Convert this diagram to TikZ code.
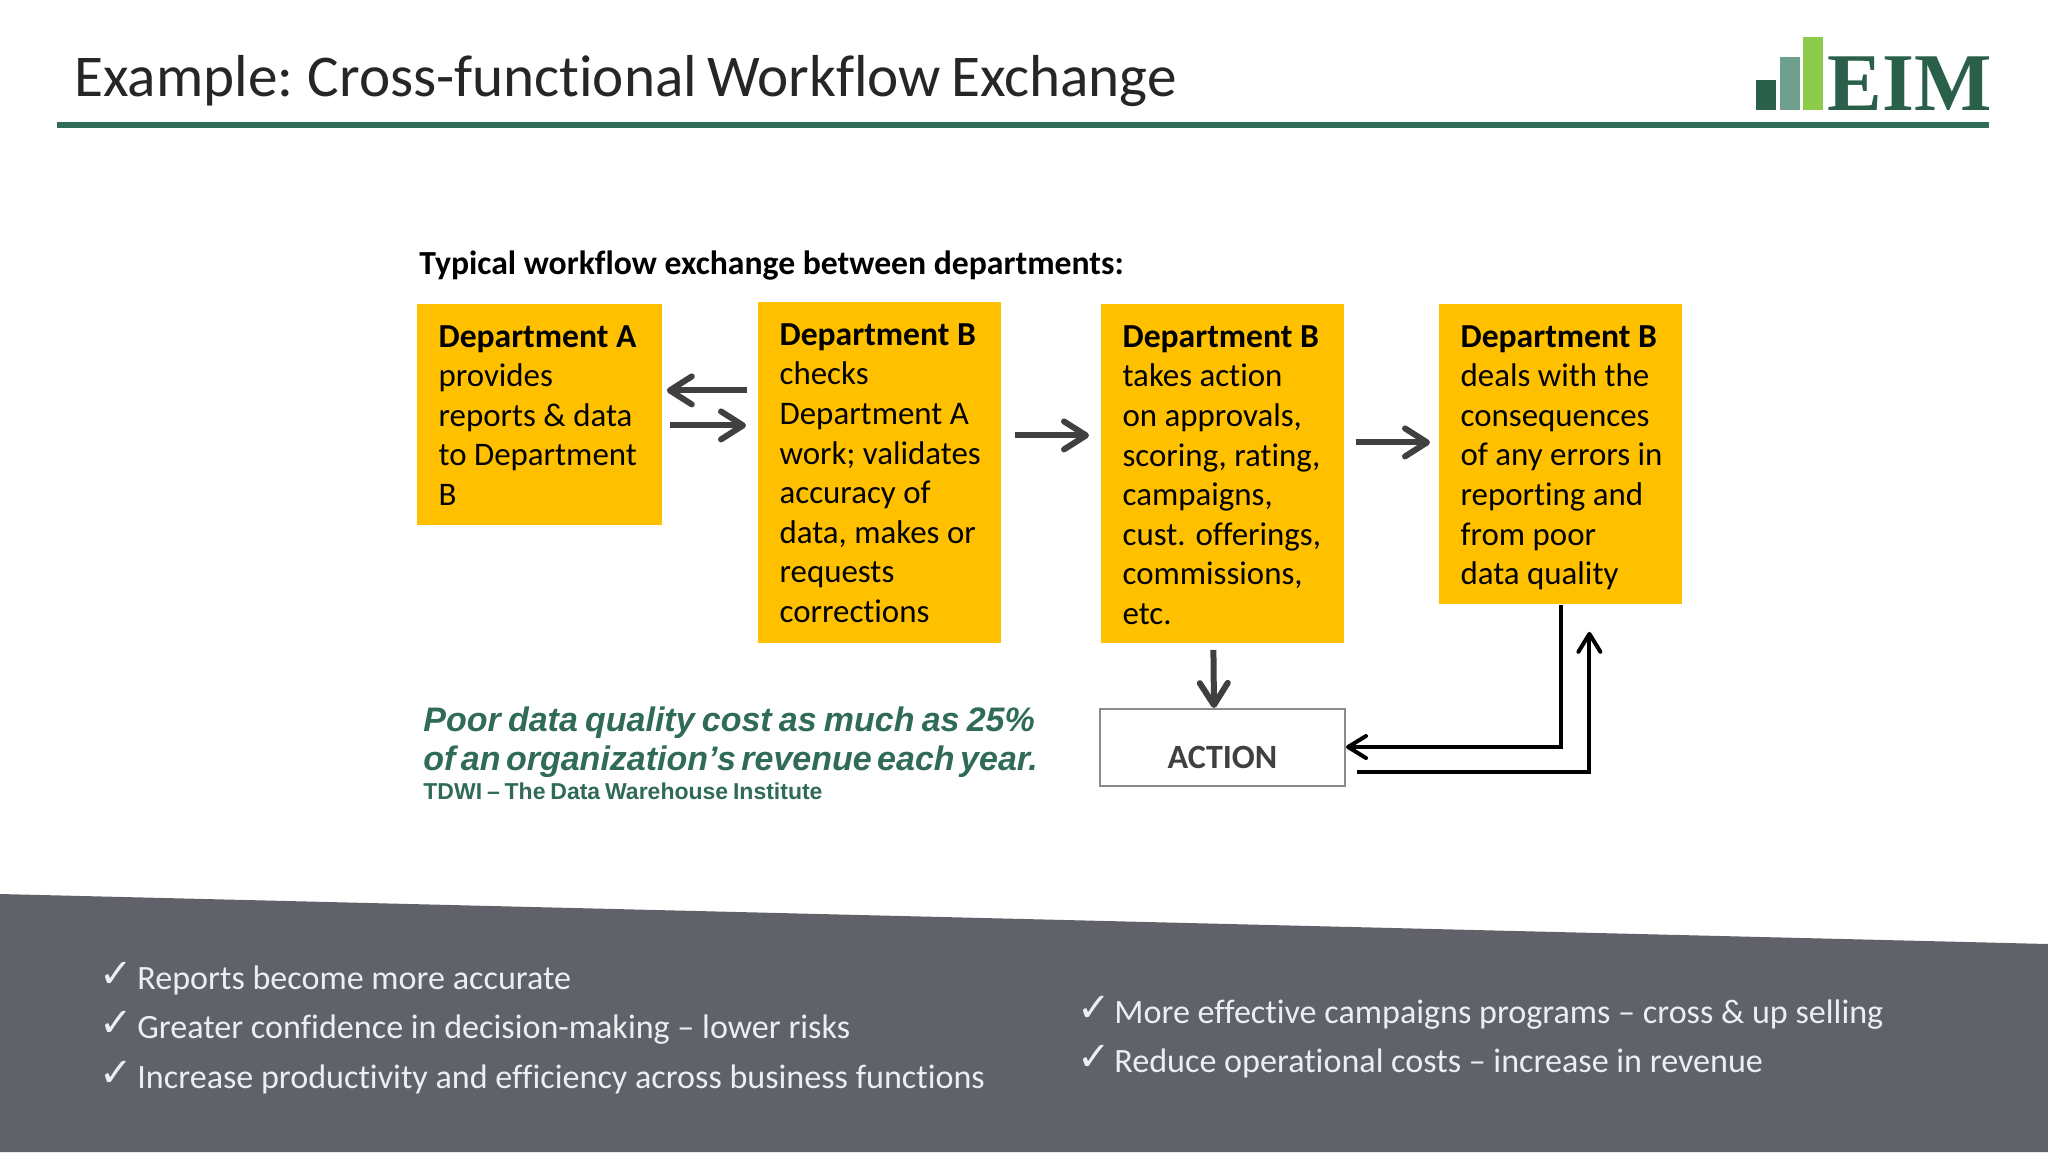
\documentclass[tikz,border=0pt]{standalone}
\usepackage{fontspec}
\setmainfont[Ligatures=NoCommon]{Carlito}
\newfontfamily\titlef[Ligatures=NoCommon,WordSpace=0.75]{Carlito}
\newfontfamily\arialf[WordSpace=0.6]{Liberation Sans}
\newfontfamily\arialw[WordSpace=0.76]{Liberation Sans}
\newfontfamily\timesf{Liberation Serif}
\newfontfamily\dejavu{DejaVu Sans}
\usetikzlibrary{arrows.meta,calc}
\definecolor{eimgreen}{HTML}{2F6B55}
\definecolor{eimdark}{HTML}{2A5F4A}
\definecolor{eimmid}{HTML}{6FA08D}
\definecolor{eimlight}{HTML}{8CCC4A}
\definecolor{deptgold}{HTML}{FFC000}
\definecolor{band}{HTML}{606169}
\definecolor{bandtext}{HTML}{ECEEF2}
\definecolor{arrowgrey}{HTML}{404040}
\tikzset{
  dept/.style={fill=deptgold,draw=none,inner sep=0pt,anchor=north west,font=\fontsize{16.45}{19.8}\selectfont,text=black,align=left},
  actionbox/.style={draw=gray!90,line width=1pt,fill=white,anchor=north west,minimum width=122.5pt,minimum height=38.5pt,inner sep=0pt,font=\fontsize{17}{19.8}\bfseries\selectfont,text=arrowgrey},
  thick arrow/.style={draw=arrowgrey,line width=3pt,-{Straight Barb[round,length=11pt,width=14pt]}},
  thin arrow/.style={draw=black,line width=2pt,-{Straight Barb[round,length=9pt,width=11pt]}},
  plain text/.style={anchor=base west,inner sep=0pt},
  bullet text/.style={plain text,text=bandtext,font=\fontsize{17.05}{20}\selectfont},
  check mark/.style={plain text,text=bandtext,font=\fontsize{20}{24}\dejavu},
}
\newcommand{\depttext}[3]{\parbox[c][#2][t]{#1}{\vspace*{10.5pt}\hspace*{0pt}\leftskip=10.6pt\relax\rightskip=0pt plus 1fil\parindent=0pt #3}}
\newcommand{\depthead}[1]{{\fontsize{16.8}{19.8}\bfseries\selectfont #1}}
\begin{document}
\begin{tikzpicture}[x=0.5pt,y=-0.5pt]
\useasboundingbox (0,0) rectangle (2048,1152);
\fill[white] (0,0) rectangle (2048,1152);
% title
\node[plain text,font=\fontsize{29.6}{34}\titlef,text=black!85] (title) at (74,96) {Example: Cross-functional Workflow Exchange};
\fill[eimgreen] (57,122) rectangle (1989,128);
% logo
\fill[eimdark] (1756,80) rectangle (1776,110);
\fill[eimmid] (1780,57) rectangle (1800,110);
\fill[eimlight] (1803,37) rectangle (1823,110);
\node[plain text,font=\fontsize{41}{42}\bfseries\timesf,text=eimdark] (logo) at (1827,110) {EIM};
% heading
\node[plain text,font=\fontsize{16.85}{20}\bfseries\selectfont] (head) at (419,274) {Typical workflow exchange between departments:};
% boxes
\node[dept] (a) at (417,304) {\depttext{122.5pt}{110.5pt}{\depthead{Department A}\\provides\\reports \& data\\to Department\\B}};
\node[dept] (b1) at (758,302) {\depttext{121.5pt}{170.5pt}{\depthead{Department B}\\checks\\Department A\\work; validates\\accuracy of\\data, makes or\\requests\\corrections}};
\node[dept] (b2) at (1101,304) {\depttext{121.5pt}{169.5pt}{\depthead{Department B}\\takes action\\on approvals,\\scoring, rating,\\campaigns,\\cust. offerings,\\commissions,\\etc.}};
\node[dept] (b3) at (1439,304) {\depttext{121.5pt}{150pt}{\depthead{Department B}\\deals with the\\consequences\\of any errors in\\reporting and\\from poor\\data quality}};
\node[actionbox] (act) at (1099,708) {\raisebox{-10.7pt}[0pt][0pt]{ACTION}};
% arrows
\draw[thick arrow] ($(b1.west)+(-11,-82.5)$) -- ($(a.east)+(4,-24.5)$);
\draw[thick arrow] ($(a.east)+(7,10.5)$) -- ($(b1.west)+(-12,-47.5)$);
\draw[thick arrow] ($(b1.east)+(13,-37.5)$) -- ($(b2.west)+(-12,-38.5)$);
\draw[thick arrow] ($(b2.east)+(11,-31.5)$) -- ($(b3.west)+(-9,-12)$);
\draw[thick arrow] ($(b2.south)+(-9.5,6)$) -- ($(act.north)+(-8.5,0)$);
\draw[thin arrow] (b3.south) |- ($(act.east)+(0,-0.5)$);
\draw[thin arrow] ($(act.east)+(11,24.5)$) -| ($(b3.south)+(28.5,27)$);
% quote
\node[plain text,font=\fontsize{17}{20}\bfseries\itshape\arialw,text=eimgreen] (q1) at (423,731) {Poor data quality cost as much as 25\%};
\node[plain text,font=\fontsize{17}{20}\bfseries\itshape\arialf,text=eimgreen] (q2) at (423,770) {of an organization’s revenue each year.};
\node[plain text,font=\fontsize{11.5}{14}\bfseries\arialf,text=eimgreen] (q3) at (423,799) {TDWI – The Data Warehouse Institute};
% band
\fill[band] (0,894) -- (2048,944) -- (2048,1152) -- (0,1152) -- cycle;
\node[check mark] (c1) at (99,987) {✓};
\node[check mark] (c2) at (99,1036) {✓};
\node[check mark] (c3) at (99,1086) {✓};
\node[check mark] (c4) at (1077,1021) {✓};
\node[check mark] (c5) at (1077,1070) {✓};
\node[bullet text] (t1) at (137,989) {Reports become more accurate};
\node[bullet text] (t2) at (137,1038) {Greater confidence in decision-making – lower risks};
\node[bullet text] (t3) at (137,1088) {Increase productivity and efficiency across business functions};
\node[bullet text] (t4) at (1114,1023) {More effective campaigns programs – cross \& up selling};
\node[bullet text] (t5) at (1114,1072) {Reduce operational costs – increase in revenue};
\end{tikzpicture}
\end{document}
